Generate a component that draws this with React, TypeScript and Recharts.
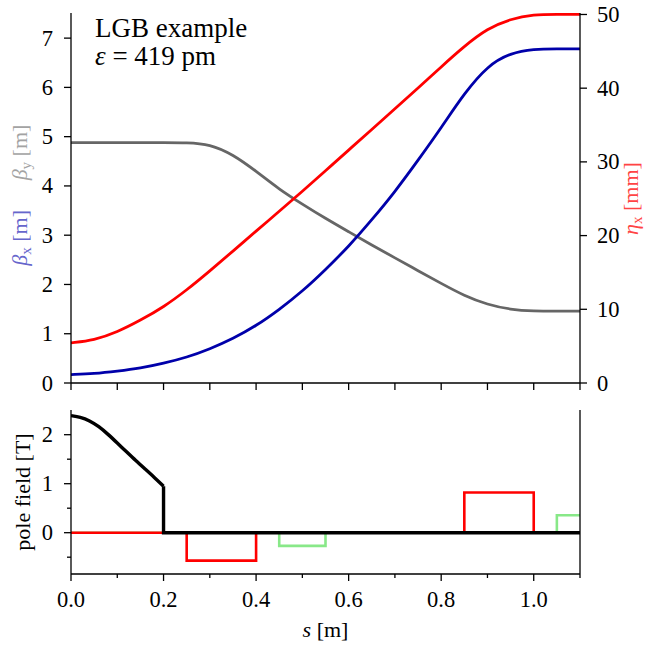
import React from "react";
import { LineChart, Line, XAxis, YAxis } from "recharts";

const FONT = "'Liberation Serif', 'Times New Roman', serif";

// optics along the bend, sampled every 5 cm
const sGrid = [0, 0.05, 0.1, 0.15, 0.2, 0.25, 0.3, 0.35, 0.4, 0.45, 0.5, 0.55, 0.6, 0.65, 0.7, 0.75, 0.8, 0.85, 0.9, 0.95, 1.0, 1.05, 1.1];
const betaX = [0.17, 0.19, 0.24, 0.3, 0.4, 0.52, 0.69, 0.9, 1.16, 1.49, 1.86, 2.3, 2.77, 3.31, 3.88, 4.52, 5.18, 5.88, 6.44, 6.7, 6.78, 6.78, 6.78];
const betaY = [4.88, 4.88, 4.88, 4.88, 4.88, 4.88, 4.85, 4.64, 4.3, 3.93, 3.63, 3.34, 3.07, 2.8, 2.54, 2.28, 2.02, 1.77, 1.59, 1.49, 1.46, 1.46, 1.46];
const etaX = [5.45, 5.8, 6.9, 8.5, 10.3, 12.6, 15.2, 17.9, 20.6, 23.3, 26.0, 28.8, 31.6, 34.4, 37.2, 40.0, 42.9, 45.7, 48.1, 49.4, 50.0, 50.0, 50.0];

// pole field of the longitudinal gradient bend
const bendS = [0, 0.02, 0.04, 0.06, 0.08, 0.1, 0.12, 0.14, 0.16, 0.18, 0.2];
const bendB = [2.39, 2.36, 2.29, 2.17, 2.01, 1.83, 1.65, 1.47, 1.3, 1.13, 0.95];
const bendTailS = [0.2, 0.2, 1.1];
const bendTailB = [0.95, 0, 0];

// quadrupoles (red) and sextupoles (green), step edges
const quadS = [0, 0.25, 0.4, 0.85, 1.0, 1.1];
const quadB = [0, -0.57, 0, 0.82, 0, 0];
const sextS = [0, 0.45, 0.55, 1.05, 1.1];
const sextB = [0, -0.27, 0, 0.355, 0.355];

const sTicks = [0, 0.1, 0.2, 0.3, 0.4, 0.5, 0.6, 0.7, 0.8, 0.9, 1.0, 1.1];
const sMajor = [0, 0.2, 0.4, 0.6, 0.8, 1.0];
const betaTicks = [0, 1, 2, 3, 4, 5, 6, 7];
const etaTicks = [0, 10, 20, 30, 40, 50];
const fieldTicks = [-0.5, 0, 0.5, 1, 1.5, 2];
const fieldMajor = [0, 1, 2];

const opticsRows = sGrid.map((s, i) => ({ s, betaX: betaX[i], betaY: betaY[i], eta: etaX[i] }));
const toRows = (xs: number[], ys: number[]) => xs.map((s, i) => ({ s, b: ys[i] }));
const bendRows = toRows(bendS, bendB);
const bendTailRows = toRows(bendTailS, bendTailB);
const quadRows = toRows(quadS, quadB);
const sextRows = toRows(sextS, sextB);

const isIn = (arr: number[], v: number) => arr.some((m) => Math.abs(m - v) < 1e-6);

function STick(props: any) {
  const { x, y, payload, showLabels } = props;
  const major = !showLabels || isIn(sMajor, payload.value);
  return (
    <g>
      <line x1={x} x2={x} y1={y} y2={y + (major ? 7 : 4)} stroke="#000" strokeWidth={1.3} />
      {showLabels && major ? (
        <text x={x} y={y + 33} textAnchor="middle" fontFamily={FONT} fontSize={22.5} fill="#000">
          {Number(payload.value).toFixed(1)}
        </text>
      ) : null}
    </g>
  );
}

function LeftTick(props: any) {
  const { x, y, payload, majors } = props;
  const major = !majors || isIn(majors, payload.value);
  return (
    <g>
      <line x1={x - (major ? 7 : 4)} x2={x} y1={y} y2={y} stroke="#000" strokeWidth={1.3} />
      {major ? (
        <text x={x - 18} y={y + 7.5} textAnchor="end" fontFamily={FONT} fontSize={22.5} fill="#000">
          {payload.value}
        </text>
      ) : null}
    </g>
  );
}

function RightTick(props: any) {
  const { x, y, payload } = props;
  return (
    <g>
      <line x1={x} x2={x + 7} y1={y} y2={y} stroke="#000" strokeWidth={1.3} />
      <text x={x + 17} y={y + 7.5} textAnchor="start" fontFamily={FONT} fontSize={22.5} fill="#000">
        {payload.value}
      </text>
    </g>
  );
}

function BetaLabels() {
  return (
    <g fontFamily={FONT} fontSize={22}>
      <text x={27} y={237.8} transform="rotate(-90, 27, 237.8)" textAnchor="middle" fill="#6666cc">
        <tspan fontStyle="italic">β</tspan>
        <tspan fontSize={15} dy={4}>x</tspan>
        <tspan dy={-4}> [m]</tspan>
      </text>
      <text x={27} y={152.5} transform="rotate(-90, 27, 152.5)" textAnchor="middle" fill="#a3a3a3">
        <tspan fontStyle="italic">β</tspan>
        <tspan fontSize={15} dy={4}>y</tspan>
        <tspan dy={-4}> [m]</tspan>
      </text>
      <text x={95} y={37.3} fontSize={27} fill="#000">LGB example</text>
      <text x={95} y={65} fontSize={27} fill="#000">
        <tspan fontStyle="italic">ε</tspan> = 419 pm
      </text>
    </g>
  );
}

function EtaLabel() {
  return (
    <text
      x={638}
      y={198.5}
      transform="rotate(-90, 638, 198.5)"
      textAnchor="middle"
      fontFamily={FONT}
      fontSize={22}
      fill="#ff4444"
    >
      <tspan fontStyle="italic">η</tspan>
      <tspan fontSize={15} dy={4}>x</tspan>
      <tspan dy={-4}> [mm]</tspan>
    </text>
  );
}

function FieldLabel() {
  return (
    <text x={30} y={92} transform="rotate(-90, 30, 92)" textAnchor="middle" fontFamily={FONT} fontSize={22} fill="#000">
      pole field [T]
    </text>
  );
}

function SLabel() {
  return (
    <text x={325.5} y={236.7} textAnchor="middle" fontFamily={FONT} fontSize={22} fill="#000">
      <tspan fontStyle="italic">s</tspan> [m]
    </text>
  );
}

const axisLine = { stroke: "#000", strokeWidth: 1.3 };

export default function App() {
  return (
    <div style={{ position: "relative", width: 647, height: 646 }}>
      <style>{"html,body{margin:0;padding:0;overflow:hidden}"}</style>
      <div style={{ position: "absolute", left: 0, top: 0 }}>
        <LineChart width={647} height={400} data={opticsRows} margin={{ top: 13, right: 0, bottom: 0, left: 0 }}>
          <XAxis
            dataKey="s"
            type="number"
            domain={[0, 1.1]}
            allowDataOverflow
            ticks={sTicks}
            interval={0}
            height={17}
            tickSize={0}
            tickMargin={0}
            tickLine={false}
            tick={<STick showLabels={false} />}
            axisLine={axisLine}
          />
          <YAxis
            yAxisId="beta"
            type="number"
            domain={[0, 7.51]}
            allowDataOverflow
            ticks={betaTicks}
            interval={0}
            width={71}
            tickSize={0}
            tickMargin={0}
            tickLine={false}
            tick={<LeftTick />}
            axisLine={axisLine}
            label={<BetaLabels />}
          />
          <YAxis
            yAxisId="eta"
            orientation="right"
            type="number"
            domain={[0, 50.2]}
            allowDataOverflow
            ticks={etaTicks}
            interval={0}
            width={67}
            tickSize={0}
            tickMargin={0}
            tickLine={false}
            tick={<RightTick />}
            axisLine={axisLine}
            label={<EtaLabel />}
          />
          <Line yAxisId="beta" type="basis" dataKey="betaY" stroke="#666666" strokeWidth={2.8} dot={false} isAnimationActive={false} />
          <Line yAxisId="beta" type="basis" dataKey="betaX" stroke="#0000aa" strokeWidth={2.8} dot={false} isAnimationActive={false} />
          <Line yAxisId="eta" type="basis" dataKey="eta" stroke="#ff0000" strokeWidth={2.8} dot={false} isAnimationActive={false} />
        </LineChart>
      </div>
      <div style={{ position: "absolute", left: 0, top: 400 }}>
        <LineChart width={647} height={244} margin={{ top: 10, right: 0, bottom: 0, left: 0 }}>
          <XAxis
            dataKey="s"
            type="number"
            domain={[0, 1.1]}
            allowDataOverflow
            ticks={sTicks}
            interval={0}
            height={70}
            tickSize={0}
            tickMargin={0}
            tickLine={false}
            tick={<STick showLabels />}
            axisLine={axisLine}
            label={<SLabel />}
          />
          <YAxis
            yAxisId="field"
            type="number"
            domain={[-0.843, 2.504]}
            allowDataOverflow
            ticks={fieldTicks}
            interval={0}
            width={71}
            tickSize={0}
            tickMargin={0}
            tickLine={false}
            tick={<LeftTick majors={fieldMajor} />}
            axisLine={axisLine}
            label={<FieldLabel />}
          />
          <YAxis
            yAxisId="frame"
            orientation="right"
            type="number"
            domain={[0, 1]}
            width={67}
            tick={false}
            tickLine={false}
            axisLine={axisLine}
          />
          <Line yAxisId="field" data={sextRows} dataKey="b" type="stepAfter" stroke="#88e888" strokeWidth={2.6} dot={false} isAnimationActive={false} />
          <Line yAxisId="field" data={quadRows} dataKey="b" type="stepAfter" stroke="#ff0000" strokeWidth={2.6} dot={false} isAnimationActive={false} />
          <Line yAxisId="field" data={bendTailRows} dataKey="b" type="linear" stroke="#000000" strokeWidth={3.4} dot={false} isAnimationActive={false} />
          <Line yAxisId="field" data={bendRows} dataKey="b" type="basis" stroke="#000000" strokeWidth={3.4} dot={false} isAnimationActive={false} />
        </LineChart>
      </div>
    </div>
  );
}
